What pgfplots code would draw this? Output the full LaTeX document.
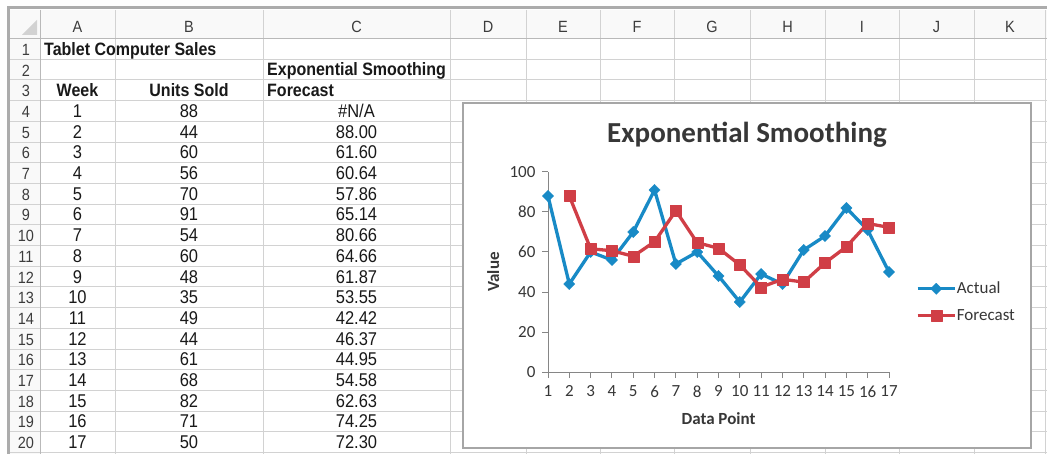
\documentclass[border=0pt]{standalone}
\usepackage{pgfplots}
\pgfplotsset{compat=1.18}
\usepackage{pgfplotstable}
\usepackage{fontspec}
\setmainfont{Carlito}
\newfontfamily\arial{Liberation Sans}
\definecolor{actual}{RGB}{24,138,198}
\definecolor{forecast}{RGB}{208,62,70}
\definecolor{gridc}{RGB}{210,210,210}
\definecolor{hdr}{RGB}{60,60,60}
\definecolor{axisgray}{RGB}{134,134,134}
\definecolor{txt}{RGB}{55,55,55}
\definecolor{celltxt}{RGB}{25,25,25}
\newcommand\vs[1]{\scalebox{1}[1.12]{#1}}

\pgfplotstableread{
x y
1 88
2 44
3 60
4 56
5 70
6 91
7 54
8 60
9 48
10 35
11 49
12 44
13 61
14 68
15 82
16 71
17 50
}\actualdata

\pgfplotstableread{
x y
2 88.00
3 61.60
4 60.64
5 57.86
6 65.14
7 80.66
8 64.66
9 61.87
10 53.55
11 42.42
12 46.37
13 44.95
14 54.58
15 62.63
16 74.25
17 72.30
}\forecastdata

\begin{document}
\begin{tikzpicture}
\begin{scope}[x=1pt,y=-1pt,
  cell/.style={font=\arial\fontsize{16.5}{16.5}\selectfont, text=celltxt, inner sep=0pt},
  bcell/.style={font=\arial\bfseries\fontsize{16}{16}\selectfont, text=celltxt, inner sep=0pt}]
\useasboundingbox (0,0) rectangle (1047,454);
\fill[white] (0,0) rectangle (1047,454);
% header backgrounds
\fill[gray!5] (10,10) rectangle (1047,38.5);
\fill[gray!5] (10,10) rectangle (40,454);
% horizontal grid
\foreach \r in {0,...,20} {
  \draw[gridc, line width=0.8pt] (10,{38.5+\r*20.7}) -- (1047,{38.5+\r*20.7});
}
% vertical grid
\foreach \x in {40,115,263,450,526,600,674,750,825,899,974,1045} {
  \draw[gridc, line width=0.8pt] (\x,10) -- (\x,454);
}
\draw[gray!55, line width=1pt] (10,38.5) -- (1047,38.5);
\draw[gray!55, line width=1pt] (40,10) -- (40,454);
% select-all triangle
\fill[gray!35] (37,20) -- (37,35) -- (22,35) -- cycle;
% window frame
\draw[gray!65, line width=3pt] (8,454) -- (8,8) -- (1047,8);
% column letters
\foreach \c/\x in {A/77.5,B/189,C/356.5,D/488,E/563,F/637,G/712,H/787.5,I/862,J/936.5,K/1010} {
  \node[font=\arial\fontsize{14.5}{14.5}\selectfont, text=hdr, anchor=base, inner sep=0pt] at (\x,33) {\vs{\c}};
}
% row numbers
\foreach \r in {1,...,20} {
  \node[font=\arial\fontsize{14.5}{14.5}\selectfont, text=hdr, anchor=base, inner sep=0pt] at (26,{38.5+(\r-0.5)*20.7+6.5}) {\vs{\r}};
}
% headings
\node[bcell, anchor=base west] at (44,55.3) {\vs{Tablet Computer Sales}};
\node[bcell, anchor=base west] at (267,76) {\vs{Exponential Smoothing}};
\node[bcell, anchor=base] at (77.5,96.7) {\vs{Week}};
\node[bcell, anchor=base] at (189,96.7) {\vs{Units Sold}};
\node[bcell, anchor=base west] at (267,96.7) {\vs{Forecast}};
% data rows
\node[cell, anchor=base] at (77.5,117.4) {\vs{1}};
\node[cell, anchor=base] at (189,117.4) {\vs{88}};
\node[cell, anchor=base] at (356.5,117.4) {\vs{\#N/A}};
\foreach \w/\u/\f in {2/44/88.00,3/60/61.60,4/56/60.64,5/70/57.86,6/91/65.14,7/54/80.66,8/60/64.66,9/48/61.87,10/35/53.55,11/49/42.42,12/44/46.37,13/61/44.95,14/68/54.58,15/82/62.63,16/71/74.25,17/50/72.30} {
  \pgfmathsetmacro\yb{38.5+(\w+2.5)*20.7+6.5}
  \node[cell, anchor=base] at (77.5,\yb) {\vs{\w}};
  \node[cell, anchor=base] at (189,\yb) {\vs{\u}};
  \node[cell, anchor=base] at (356.5,\yb) {\vs{\f}};
}
% chart area
\draw[fill=white, draw=gray!70, line width=1.5pt] (463,103) rectangle (1031,448);
\node[font=\bfseries\fontsize{29}{29}\selectfont, text=txt, anchor=base] at (747,143) {Exponential Smoothing};
\end{scope}

\begin{axis}[
  at={(548pt,-372pt)}, anchor=south west,
  width=341pt, height=200pt, scale only axis,
  xmin=1, xmax=17, ymin=0, ymax=100,
  clip=false,
  axis x line*=bottom, axis y line*=left,
  axis line style={axisgray, line width=1pt, -},
  xtick={1,...,17}, ytick={0,20,...,100},
  tick style={axisgray, line width=1pt},
  tick align=outside, major tick length=6pt,
  ticklabel style={font=\fontsize{17}{17}\selectfont, text=txt},
  xticklabel style={yshift=-4pt},
  yticklabel style={xshift=-3pt},
  /pgf/number format/assume math mode=true,
  xlabel={Data Point}, ylabel={Value},
  label style={font=\bfseries\fontsize{17}{17}\selectfont, text=txt},
  xlabel style={at={(axis description cs:0.5,-0.235)}, anchor=center},
  ylabel style={at={(axis description cs:-0.161,0.5)}, anchor=center},
  legend style={draw=none, fill=none, at={(axis description cs:1.07,0.35)}, anchor=west,
    font=\fontsize{17}{17}\selectfont, text=txt, row sep=13pt,
    nodes={inner sep=0.5pt}},
  legend cell align=left,
  legend image code/.code={\draw[mark repeat=2, mark phase=2] plot coordinates {(0pt,0pt) (18.5pt,0pt) (37pt,0pt)};},
]
\addplot[actual, line width=3.3pt, line join=round, mark=square*, mark size=4pt,
  mark options={rotate=45, solid, line width=0.3pt}] table {\actualdata};
\addlegendentry{Actual}
\addplot[forecast, line width=3.3pt, line join=round, mark=square*, mark size=5.5pt,
  mark options={solid, line width=0.3pt}] table {\forecastdata};
\addlegendentry{Forecast}
\end{axis}
\end{tikzpicture}
\end{document}
